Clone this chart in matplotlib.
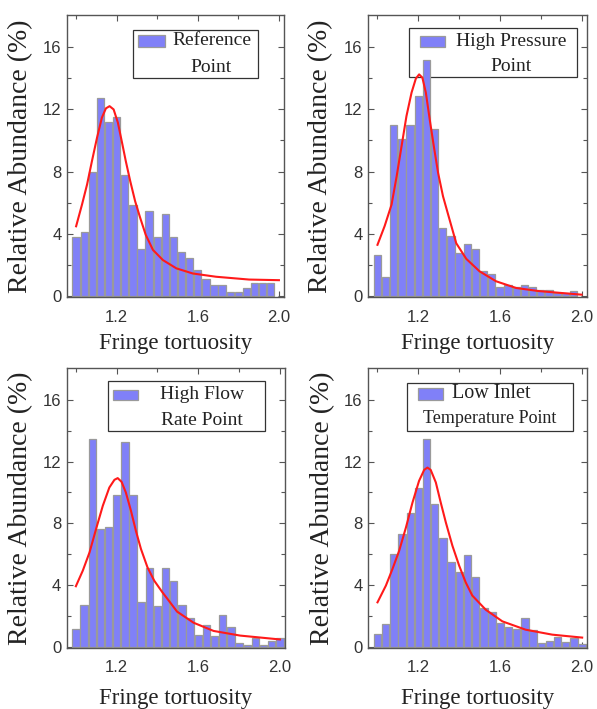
import numpy as np
import matplotlib
matplotlib.use("Agg")
import matplotlib.pyplot as plt
from matplotlib.patches import Rectangle

# histogram bin centres (fringe tortuosity), 0.04 wide
bins_25 = np.round(np.arange(25) * 0.04 + 1.0, 2)
bins_26 = np.round(np.arange(26) * 0.04 + 1.0, 2)

# relative abundance (%) per bin
ref_abund = [3.8, 4.15, 8.0, 12.7, 11.2, 11.5, 7.75, 5.87, 3.0, 5.48, 3.78, 5.29, 3.78,
             2.86, 2.43, 1.68, 1.1, 0.71, 0.71, 0.3, 0.3, 0.54, 0.88, 0.88, 0.88]
hp_abund = [2.65, 1.25, 11.0, 10.1, 11.0, 12.83, 15.17, 10.74, 4.37, 3.87, 2.75, 3.33, 3.01,
            1.63, 1.4, 0.56, 0.73, 0.56, 0.69, 0.62, 0.37, 0.37, 0.22, 0.22, 0.34]
hf_abund = [1.16, 2.73, 13.43, 7.61, 7.76, 9.84, 13.26, 9.84, 2.9, 5.1, 2.65, 5.1, 4.26,
            2.71, 1.89, 0.8, 1.42, 0.71, 2.09, 1.29, 0.28, 0.15, 0.6, 0.15, 0.37, 0.6]
lt_abund = [0.86, 1.5, 6.02, 7.34, 8.68, 10.27, 13.43, 9.26, 7.06, 5.5, 4.84, 5.98, 4.52,
            2.54, 2.26, 1.55, 1.29, 1.18, 1.87, 1.08, 0.3, 0.39, 0.69, 0.32, 0.6, 0.19]

# fitted curves, sampled from the figure
ref_fit_x = [1.0, 1.029, 1.054, 1.078, 1.103, 1.127, 1.147, 1.165, 1.185, 1.206, 1.225,
             1.245, 1.267, 1.291, 1.316, 1.343, 1.379, 1.428, 1.494, 1.575, 1.69, 1.853, 2.0]
ref_fit_y = [4.49, 5.88, 7.17, 8.67, 10.17, 11.46, 12.06, 12.2, 11.99, 11.14, 9.95,
             8.67, 7.38, 6.1, 5.03, 3.95, 2.97, 2.32, 1.79, 1.46, 1.25, 1.07, 1.03]
hp_fit_x = [1.0, 1.035, 1.069, 1.094, 1.118, 1.142, 1.167, 1.188, 1.204, 1.22, 1.237,
            1.256, 1.276, 1.297, 1.321, 1.345, 1.386, 1.435, 1.5, 1.581, 1.679, 1.79, 2.0]
hp_fit_y = [3.3, 4.5, 5.88, 7.7, 9.63, 11.56, 13.07, 13.97, 14.24, 14.03, 13.07,
            11.35, 9.63, 7.92, 6.42, 5.3, 3.4, 2.4, 1.6, 0.96, 0.53, 0.33, 0.1]
hf_fit_x = [1.0, 1.034, 1.067, 1.099, 1.132, 1.164, 1.189, 1.205, 1.224, 1.245, 1.27,
            1.294, 1.319, 1.351, 1.384, 1.424, 1.449, 1.496, 1.577, 1.675, 1.805, 2.0]
hf_fit_y = [3.94, 4.95, 6.13, 7.64, 9.14, 10.32, 10.82, 10.93, 10.69, 10.0, 8.82,
            7.53, 6.35, 5.16, 4.3, 3.55, 3.12, 2.3, 1.58, 1.05, 0.75, 0.5]
lt_fit_x = [1.0, 1.041, 1.073, 1.106, 1.139, 1.171, 1.203, 1.228, 1.244, 1.26, 1.285,
            1.309, 1.334, 1.366, 1.399, 1.431, 1.463, 1.529, 1.61, 1.724, 1.854, 2.0]
lt_fit_y = [2.9, 3.98, 5.05, 6.24, 7.74, 9.35, 10.75, 11.46, 11.61, 11.46, 10.65,
            9.35, 8.06, 6.56, 5.27, 4.19, 3.34, 2.42, 1.67, 1.13, 0.81, 0.62]

panel_labels = [("Reference", "Point"), ("High Pressure", "Point"),
                ("High Flow", "Rate Point"), ("Low Inlet", "Temperature Point")]

SERIF = "Liberation Serif"
SANS = "Liberation Sans"
BAR_C = "#8080f8"

fig = plt.figure(figsize=(5.97, 7.09), dpi=100)
axes_rects = [
    (0.1122, 0.5811, 0.3635, 0.3977),
    (0.6169, 0.5811, 0.3658, 0.3977),
    (0.1117, 0.0861, 0.3657, 0.3949),
    (0.6169, 0.0861, 0.3668, 0.3949),
]
data = [
    (bins_25, ref_abund, ref_fit_x, ref_fit_y),
    (bins_25, hp_abund, hp_fit_x, hp_fit_y),
    (bins_26, hf_abund, hf_fit_x, hf_fit_y),
    (bins_26, lt_abund, lt_fit_x, lt_fit_y),
]
# legend layout in axes fraction: box (x0, y0, x1, y1), patch (x0, y0, x1, y1)
legend_boxes = [
    ((0.304, 0.777, 0.880, 0.947), (0.327, 0.887, 0.452, 0.929)),
    ((0.188, 0.779, 0.954, 0.953), (0.235, 0.888, 0.351, 0.926)),
    ((0.190, 0.774, 0.908, 0.952), (0.213, 0.887, 0.328, 0.923)),
    ((0.175, 0.774, 0.936, 0.946), (0.228, 0.887, 0.342, 0.929)),
]
ylabel_x = [-0.157, -0.162, -0.155, -0.152]
xlabel_y = [-0.128, -0.128, -0.142, -0.142]

for i, (rect, (bx, ab, fx, fy)) in enumerate(zip(axes_rects, data)):
    ax = fig.add_axes(rect)
    ax.bar(bx, ab, width=0.036, color=BAR_C, edgecolor="#9a9a9a", linewidth=0.9, zorder=2)
    ax.plot(fx, fy, color="#ff1a1a", linewidth=1.5, solid_joinstyle="round", zorder=3)

    ax.set_xlim(0.955, 2.025)
    ax.set_ylim(-0.05, 18.05)
    ax.set_xticks([1.2, 1.6, 2.0])
    ax.set_xticks([1.0, 1.4, 1.8], minor=True)
    ax.set_yticks([0, 4, 8, 12, 16])
    ax.set_yticks([2, 6, 10, 14], minor=True)
    ax.tick_params(which="both", direction="in", top=True, right=True,
                   color="#555555", width=0.8)
    ax.tick_params(which="major", length=4)
    ax.tick_params(which="minor", length=3)
    ax.tick_params(axis="x", pad=9)
    ax.tick_params(axis="y", pad=4)
    for lab in ax.get_xticklabels() + ax.get_yticklabels():
        lab.set_fontfamily(SANS)
        lab.set_fontsize(12)
        lab.set_color("#333333")
    for sp in ax.spines.values():
        sp.set_color("#555555")
        sp.set_linewidth(1.0)

    ax.set_ylabel("Relative Abundance (%)", fontfamily=SERIF, fontsize=20, color="#222222")
    ax.yaxis.set_label_coords(ylabel_x[i], 0.5)
    ax.set_xlabel("Fringe tortuosity", fontfamily=SERIF, fontsize=16.5, color="#222222")
    ax.xaxis.set_label_coords(0.5, xlabel_y[i])

    # legend drawn by hand so the two-line labels sit like the original;
    # the frame is see-through and sits behind the bars
    (b0, b1, b2, b3), (p0, p1, p2, p3) = legend_boxes[i]
    ax.add_patch(Rectangle((b0, b1), b2 - b0, b3 - b1, transform=ax.transAxes,
                           facecolor="none", edgecolor="#333333", linewidth=0.9, zorder=1))
    ax.add_patch(Rectangle((p0, p1), p2 - p0, p3 - p1, transform=ax.transAxes,
                           facecolor=BAR_C, edgecolor="#9a9a9a", linewidth=0.9, zorder=6))
    line1, line2 = panel_labels[i]
    if i == 3:
        ax.text(p2 + 0.04, (p1 + p3) / 2, line1, transform=ax.transAxes, ha="left",
                va="center", fontfamily=SERIF, fontsize=14.5, zorder=7, color="#222222")
        ax.text((b0 + b2) / 2, b1 + 0.045, line2, transform=ax.transAxes, ha="center",
                va="center", fontfamily=SERIF, fontsize=13, zorder=7, color="#222222")
    else:
        cx = (p2 + b2) / 2
        ax.text(cx, (p1 + p3) / 2, line1, transform=ax.transAxes, ha="center",
                va="center", fontfamily=SERIF, fontsize=14, zorder=7, color="#222222")
        ax.text(cx, b1 + 0.037, line2, transform=ax.transAxes, ha="center",
                va="center", fontfamily=SERIF, fontsize=14, zorder=7, color="#222222")

fig.savefig("out.png", dpi=100)
